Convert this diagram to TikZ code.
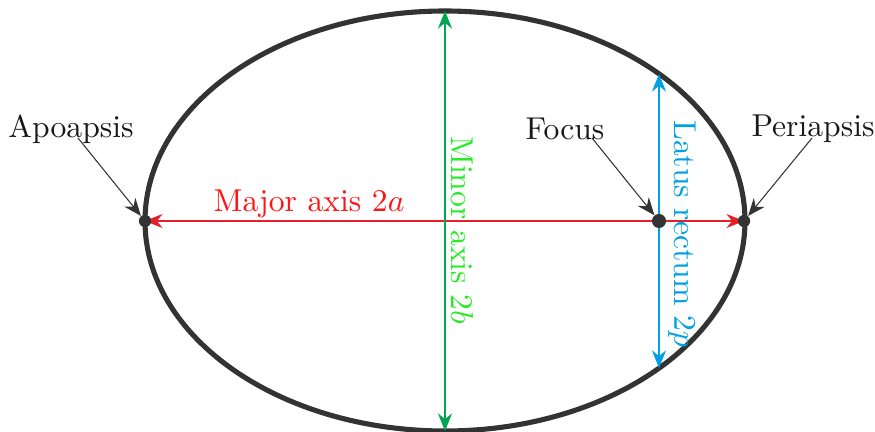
\documentclass[tikz,border=0pt]{standalone}
\usetikzlibrary{arrows.meta}
\definecolor{orbit}{RGB}{51,51,51}
\definecolor{majred}{RGB}{232,30,40}
\definecolor{majtxt}{RGB}{255,20,20}
\definecolor{mingreen}{RGB}{0,166,81}
\definecolor{mintxt}{RGB}{40,235,40}
\definecolor{latblue}{RGB}{0,160,228}
\newcommand\bigtxt[1]{\scalebox{1.8}{#1}}
\tikzset{
  lbl/.style={font=\normalsize, inner sep=0pt},
  pointer/.style={draw=orbit, line width=0.6pt, -{Stealth[length=10pt,width=8pt]}},
  dimline/.style={line width=0.65pt, {Stealth[length=10pt,width=8pt]}-{Stealth[length=10pt,width=8pt]}},
  dot/.style={circle, fill=orbit, inner sep=0pt, minimum size=#1},
}
\begin{document}
\begin{tikzpicture}[x=0.02cm,y=-0.02cm]
\useasboundingbox (0,0) rectangle (875,432);
% orbit
\draw[orbit, line width=2.9pt] (445,221) ellipse [x radius=300, y radius=210];
% positions
\coordinate (apoc) at (145,221);
\coordinate (focc) at (659,221);
\coordinate (peric) at (744,221);
\coordinate (top) at (445,11);
\coordinate (bot) at (445,431);
\coordinate (lrt) at (659,74);
\coordinate (lrb) at (659,368);
% major axis
\draw[dimline, draw=majred, fill=majred] (apoc) -- (peric);
% minor axis
\draw[dimline, draw=mingreen, fill=mingreen] (top) -- (bot);
% latus rectum
\draw[dimline, draw=latblue, fill=latblue] (lrt) -- (lrb);
% key points
\node[dot=7pt] (apo) at (apoc) {};
\node[dot=8pt] (foc) at (focc) {};
\node[dot=7pt] (peri) at (peric) {};
% labels
\node[lbl, text=majtxt] (majl) at (309,204) {\bigtxt{Major axis $2a$}};
\node[lbl, text=mintxt, rotate=-90] (minl) at (462,230) {\bigtxt{Minor axis $2b$}};
\node[lbl, text=latblue, rotate=-90] (latl) at (682,234) {\bigtxt{Latus rectum $2p$}};
\node[lbl, text=black!90] (apol) at (71,129) {\bigtxt{Apoapsis}};
\node[lbl, text=black!90] (focl) at (565,129) {\bigtxt{Focus}};
\node[lbl, text=black!90] (peril) at (813,129) {\bigtxt{Periapsis}};
\coordinate (apos) at (78,138);
\coordinate (focs) at (592,138);
\coordinate (peris) at (812,138);
\draw[pointer] (apos) -- (apo);
\draw[pointer] (focs) -- (foc);
\draw[pointer] (peris) -- (peri);
\end{tikzpicture}
\end{document}
